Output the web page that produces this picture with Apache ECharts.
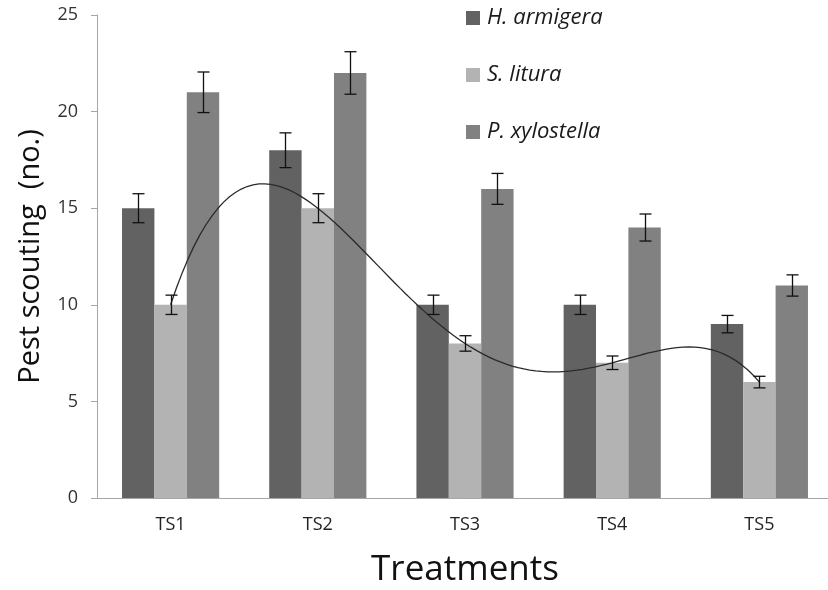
<!DOCTYPE html>
<html>
<head>
<meta charset="utf-8">
<script src="https://cdn.jsdelivr.net/npm/echarts@6/dist/echarts.min.js"></script>
<style>
html, body { margin: 0; padding: 0; background: #fff; }
#chart { width: 828px; height: 590px; }
</style>
</head>
<body>
<div id="chart"></div>
<script>
// data
var categories = ['TS1', 'TS2', 'TS3', 'TS4', 'TS5'];
var hArmigera = [15, 18, 10, 10, 9];
var sLitura = [10, 15, 8, 7, 6];
var pXylostella = [21, 22, 16, 14, 11];
var hErr = [0.75, 0.9, 0.5, 0.5, 0.45];
var sErr = [0.5, 0.75, 0.4, 0.35, 0.3];
var pErr = [1.05, 1.1, 0.8, 0.7, 0.55];
var yTicks = [0, 5, 10, 15, 20, 25];

var chart = echarts.init(document.getElementById('chart'));
var font = '"Open Sans", sans-serif';
var gapPct = 0.34;

// polynomial trendline (order 4) through the S. litura points, x = 1..n
function trendline(ys) {
    var n = ys.length;
    var pts = [];
    for (var t = 1; t <= n + 1e-9; t += 0.04) {
        var s = 0;
        for (var i = 0; i < n; i++) {
            var l = 1;
            for (var j = 0; j < n; j++) {
                if (j != i) l *= (t - (j + 1)) / ((i + 1) - (j + 1));
            }
            s += ys[i] * l;
        }
        pts.push([t, s]);
    }
    return pts;
}

function errData(vals, errs) {
    var d = [];
    for (var i = 0; i < vals.length; i++) d.push([i, vals[i], errs[i]]);
    return d;
}

function errSeries(name, vals, errs, k) {
    return {
        name: name,
        type: 'custom',
        z: 10,
        data: errData(vals, errs),
        encode: { x: 0, y: 1 },
        renderItem: function (params, api) {
            var idx = api.value(0);
            var v = api.value(1);
            var e = api.value(2);
            var band = api.size([1, 0])[0];
            var bw = band * (1 - gapPct) / 3;
            var off = (k - 1) * bw;
            var top = api.coord([idx, v + e]);
            var bot = api.coord([idx, v - e]);
            var x = Math.round(top[0] + off) + 0.5;
            var cap = 6;
            var st = { stroke: '#111', lineWidth: 1.3 };
            return {
                type: 'group',
                children: [
                    { type: 'line', shape: { x1: x, y1: top[1], x2: x, y2: bot[1] }, style: st },
                    { type: 'line', shape: { x1: x - cap, y1: top[1], x2: x + cap, y2: top[1] }, style: st },
                    { type: 'line', shape: { x1: x - cap, y1: bot[1], x2: x + cap, y2: bot[1] }, style: st }
                ]
            };
        }
    };
}

var option = {
    animation: false,
    grid: { left: 97, right: -5, top: 15, bottom: 92, outerBoundsMode: 'none', containLabel: false },
    legend: {
        orient: 'vertical',
        left: 461,
        top: 2,
        itemGap: 35,
        itemWidth: 14,
        itemHeight: 14,
        icon: 'rect',
        data: ['H. armigera', 'S. litura', 'P. xylostella'],
        textStyle: { fontFamily: font, fontStyle: 'italic', fontSize: 22, color: '#1a1a1a', padding: [0, 0, 0, 2] }
    },
    xAxis: [{
        type: 'category',
        data: categories,
        name: 'Treatments',
        nameLocation: 'middle',
        nameGap: 55,
        nameTextStyle: { fontFamily: font, fontSize: 35, color: '#111' },
        axisLine: { lineStyle: { color: '#a6a6a6', width: 1 } },
        axisTick: { length: 8, lineStyle: { color: '#a6a6a6' } },
        axisLabel: { fontFamily: font, fontSize: 18, color: '#222', margin: 18 }
    }, {
        type: 'value',
        min: 0.5,
        max: categories.length + 0.5,
        show: false
    }],
    yAxis: {
        type: 'value',
        min: yTicks[0],
        max: yTicks[yTicks.length - 1],
        interval: 5,
        name: 'Pest scouting  (no.)',
        nameLocation: 'middle',
        nameGap: 52,
        nameTextStyle: { fontFamily: font, fontSize: 29, color: '#111' },
        axisLine: { show: true, lineStyle: { color: '#a6a6a6', width: 1 } },
        axisTick: { show: true, length: 6, lineStyle: { color: '#a6a6a6' } },
        axisLabel: { fontFamily: font, fontSize: 18, color: '#333', margin: 19 },
        splitLine: { show: false }
    },
    series: [
        {
            name: 'H. armigera', type: 'bar', data: hArmigera,
            barGap: '0%', barCategoryGap: (gapPct * 100) + '%',
            itemStyle: { color: '#626262' }
        },
        {
            name: 'S. litura', type: 'bar', data: sLitura,
            barGap: '0%', barCategoryGap: (gapPct * 100) + '%',
            itemStyle: { color: '#b3b3b3' }
        },
        {
            name: 'P. xylostella', type: 'bar', data: pXylostella,
            barGap: '0%', barCategoryGap: (gapPct * 100) + '%',
            itemStyle: { color: '#818181' }
        },
        errSeries('errH', hArmigera, hErr, 0),
        errSeries('errS', sLitura, sErr, 1),
        errSeries('errP', pXylostella, pErr, 2),
        {
            name: 'trend',
            type: 'line',
            xAxisIndex: 1,
            data: trendline(sLitura),
            showSymbol: false,
            symbol: 'none',
            z: 8,
            lineStyle: { color: '#2a2a2a', width: 1.3 }
        }
    ]
};

chart.setOption(option);
</script>
</body>
</html>
